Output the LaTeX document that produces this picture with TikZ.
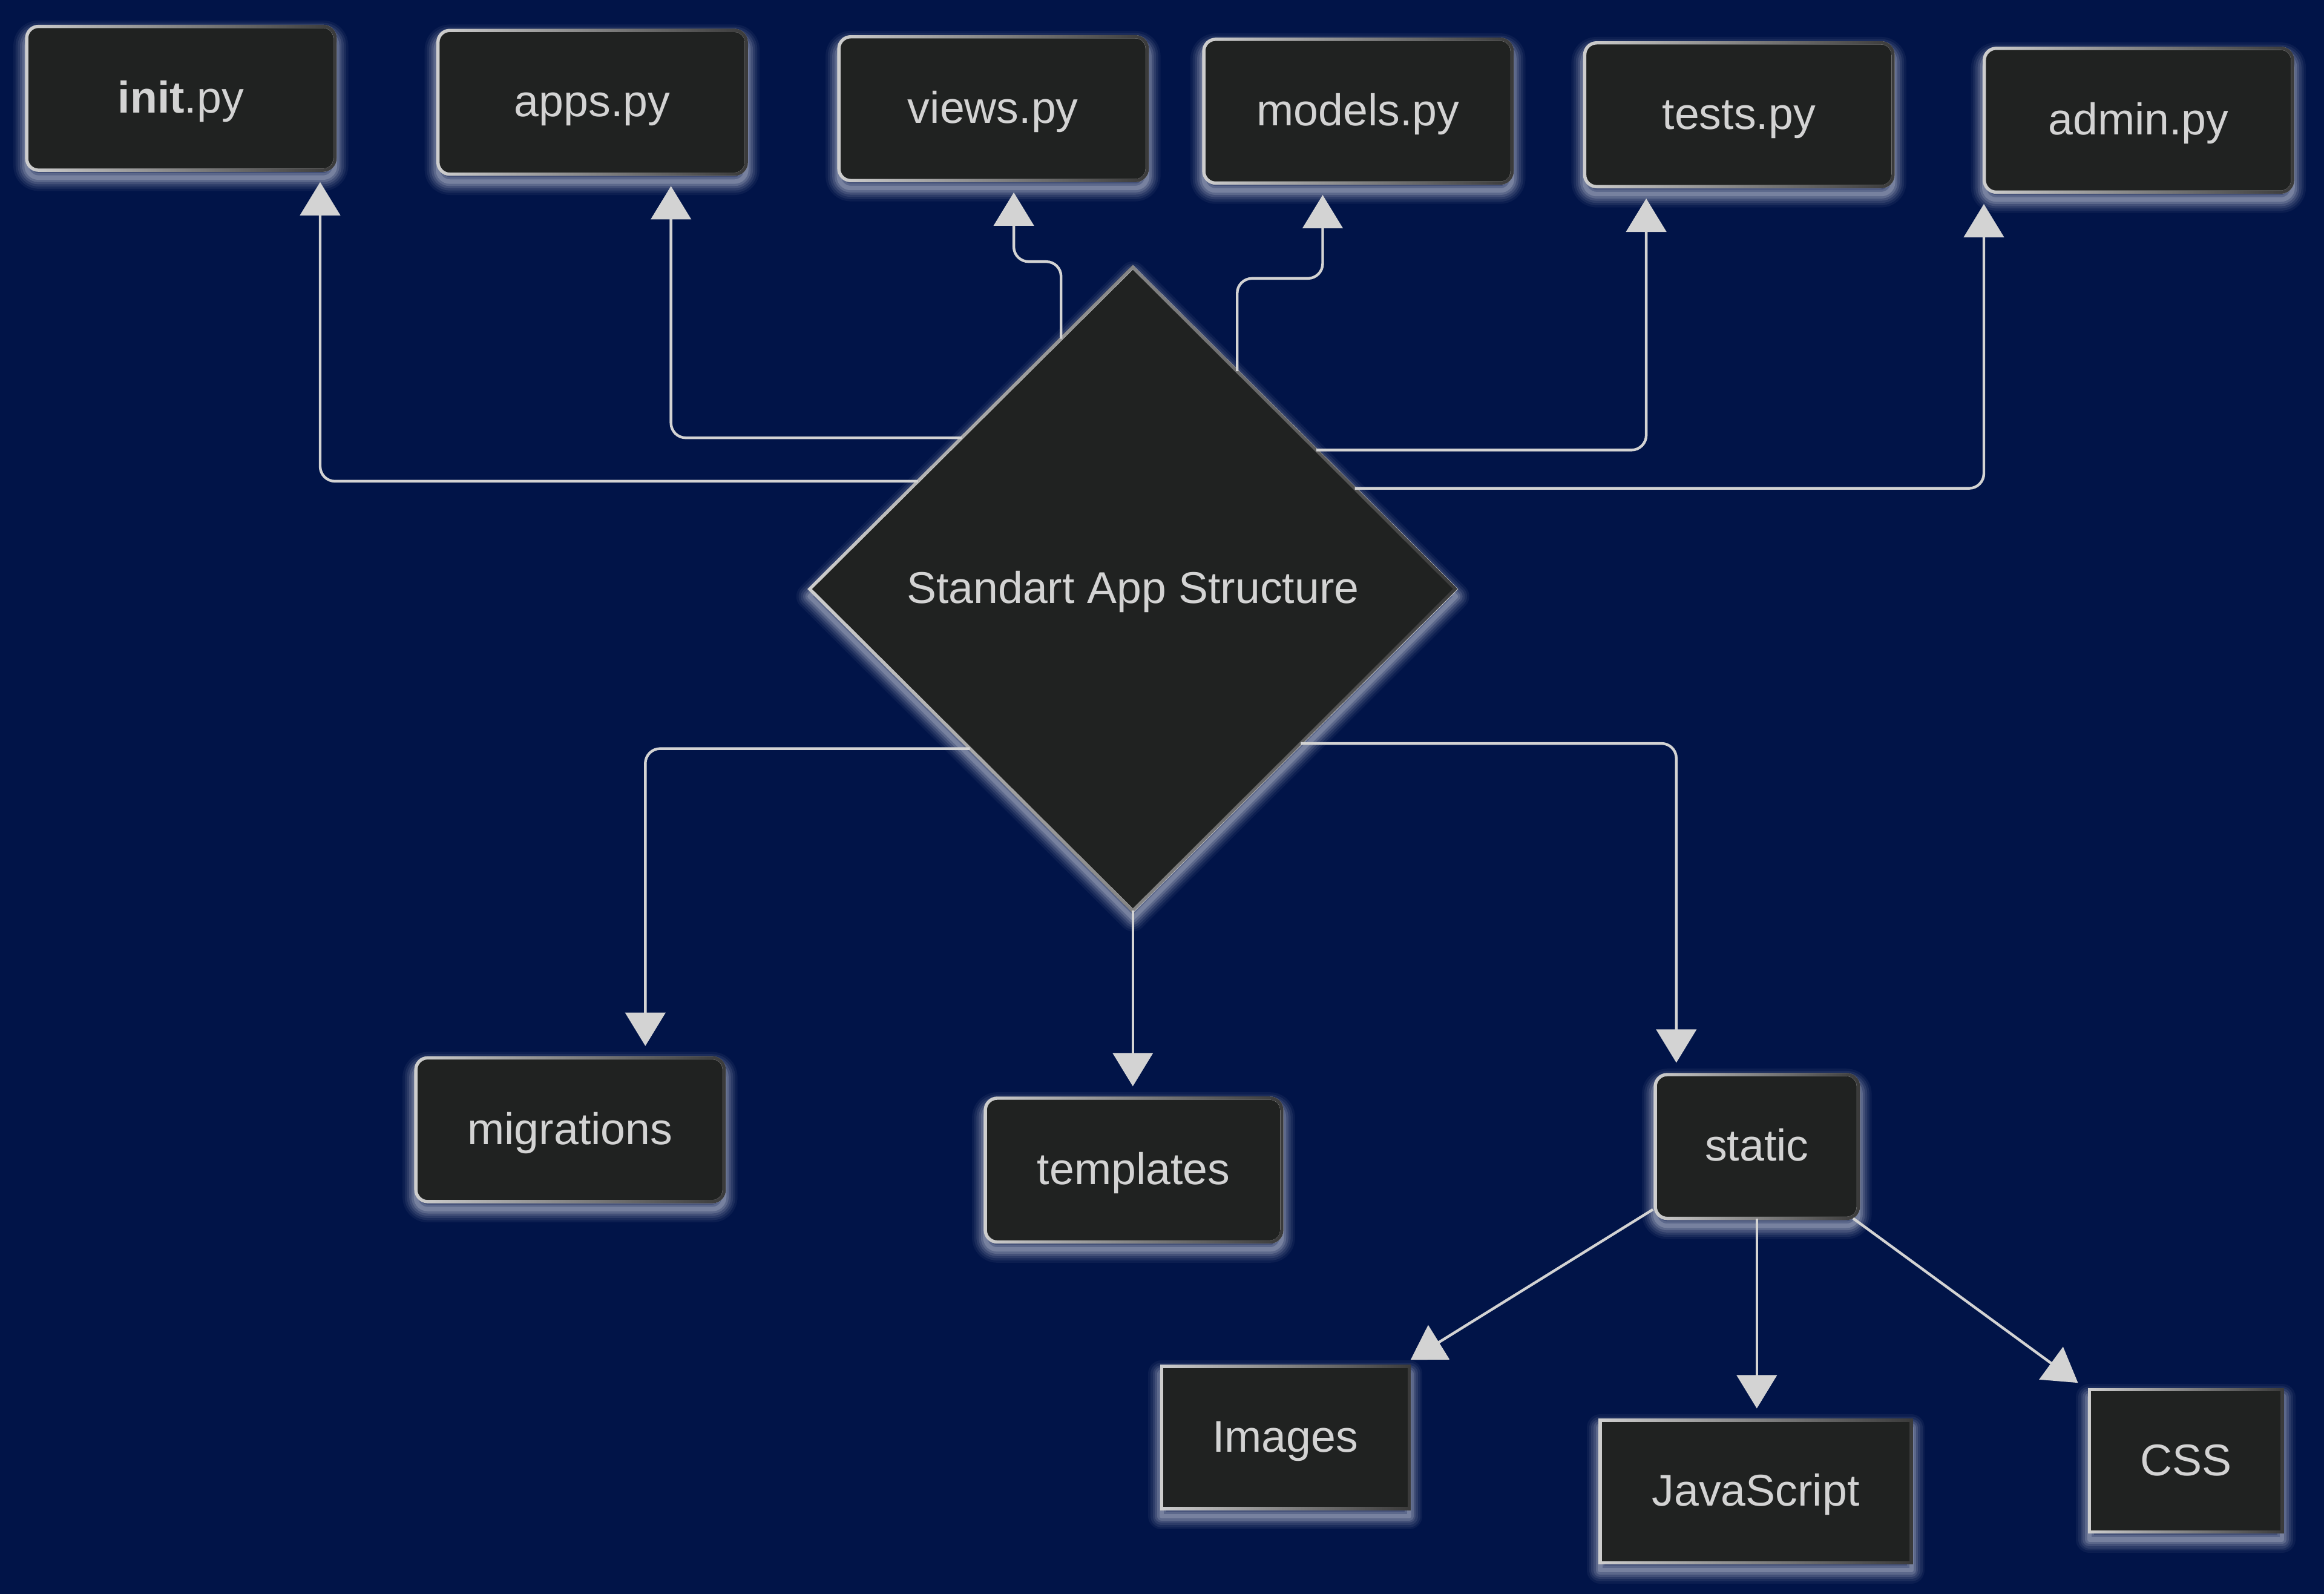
\documentclass[tikz,border=0pt]{standalone}
\usepackage{fontspec}
\setmainfont{Liberation Sans}
\usetikzlibrary{shapes.geometric,arrows.meta,calc,fadings}

\definecolor{bgnavy}{HTML}{011448}
\definecolor{boxfill}{HTML}{202221}
\definecolor{inkgray}{HTML}{D3D3D3}
\definecolor{edgelight}{HTML}{CFCFCF}
\definecolor{edgedark}{HTML}{3A3A3A}
\definecolor{glowc}{HTML}{E4E8F2}

% transparent on the left, opaque on the right: darkens the right half of a border
\tikzfading[name=darkright, left color=transparent!100, right color=transparent!0]

\tikzset{
  glowring/.style 2 args={preaction={draw=glowc, line width=#1, line join=round,
    draw opacity=#2, transform canvas={yshift=-5pt}}},
  halo/.style={
    glowring={18pt}{0.05}, glowring={15pt}{0.07}, glowring={12pt}{0.09},
    glowring={9pt}{0.12}, glowring={6pt}{0.16}, glowring={3pt}{0.2},
  },
  panel/.style={halo, fill=boxfill, draw=edgelight, line width=2.2pt,
    postaction={draw=edgedark, line width=2.2pt, path fading=darkright},
    text=inkgray, font=\fontsize{30}{36}\selectfont,
    text height=25pt, text depth=5.5pt, inner sep=0pt, outer sep=0pt},
  filebox/.style={panel, rounded corners=8pt, minimum width=208pt, minimum height=97pt},
  plainbox/.style={panel, minimum height=96pt},
  hub/.style={panel, diamond, minimum width=436pt, minimum height=434pt},
  link/.style={draw=inkgray, line width=1.8pt, rounded corners=10pt,
    -{Triangle[length=22.5pt,width=27pt]}, shorten >=8pt},
}

\begin{document}
\begin{tikzpicture}[x=1pt,y=-1pt]
\fill[bgnavy] (0,0) rectangle (1568,1075);
\useasboundingbox (0,0) rectangle (1568,1075);

% central decision shape
\node[hub] (hub) at (764.3,397.3) {Standart App Structure};

% module files
\node[filebox] (init)   at (122,66.3)    {\textbf{init}.py};
\node[filebox] (apps)   at (399.5,69)    {apps.py};
\node[filebox] (views)  at (670,73.3)    {views.py};
\node[filebox] (models) at (916.2,75)    {models.py};
\node[filebox] (tests)  at (1173.2,77.4) {tests.py};
\node[filebox] (admin)  at (1442.8,81.1) {admin.py};

% folders
\node[filebox] (migrations) at (384.6,762) {migrations};
\node[filebox, minimum width=200pt] (templates) at (764.8,789.2) {templates};
\node[filebox, minimum width=137pt] (static) at (1185.3,773.3) {static};

% static assets
\node[plainbox, minimum width=167pt] (images) at (867.2,969.6) {Images};
\node[plainbox, minimum width=210pt] (js)     at (1184.6,1006) {JavaScript};
\node[plainbox, minimum width=130pt] (css)    at (1474.7,985.4) {CSS};

% upper connectors
\draw[link] ($(hub.west)!0.335!(hub.north)$) -| ([xshift=94pt]init.south);
\draw[link] ($(hub.west)!0.470!(hub.north)$) -| ([xshift=53.2pt]apps.south);
\draw[link] ($(hub.west)!0.778!(hub.north)$) -- ++(0,-52) -| ([xshift=14pt]views.south);
\draw[link] ($(hub.north)!0.323!(hub.east)$) -- ++(0,-62.6) -| ([xshift=-23.8pt]models.south);
\draw[link] ($(hub.north)!0.568!(hub.east)$) -| ([xshift=-62.5pt]tests.south);
\draw[link] ($(hub.north)!0.687!(hub.east)$) -| ([xshift=-104.3pt]admin.south);

% lower connectors
\draw[link] ($(hub.west)!0.496!(hub.south)$) -| ([xshift=50.8pt]migrations.north);
\draw[link] (hub.south) -- (hub.south |- templates.north);
\draw[link] ($(hub.east)!0.480!(hub.south)$) -| ([xshift=-54.3pt]static.north);

% static children
\draw[link, shorten >=0pt] ([shift={(-1.6pt,6pt)}]static.south west) -- ([shift={(1pt,4.4pt)}]images.north east);
\draw[link] (static.south) -- (static.south |- js.north);
\draw[link, shorten >=0pt] ([xshift=-3.5pt]static.south east) -- ([shift={(-7.7pt,4.7pt)}]css.north west);
\end{tikzpicture}
\end{document}
